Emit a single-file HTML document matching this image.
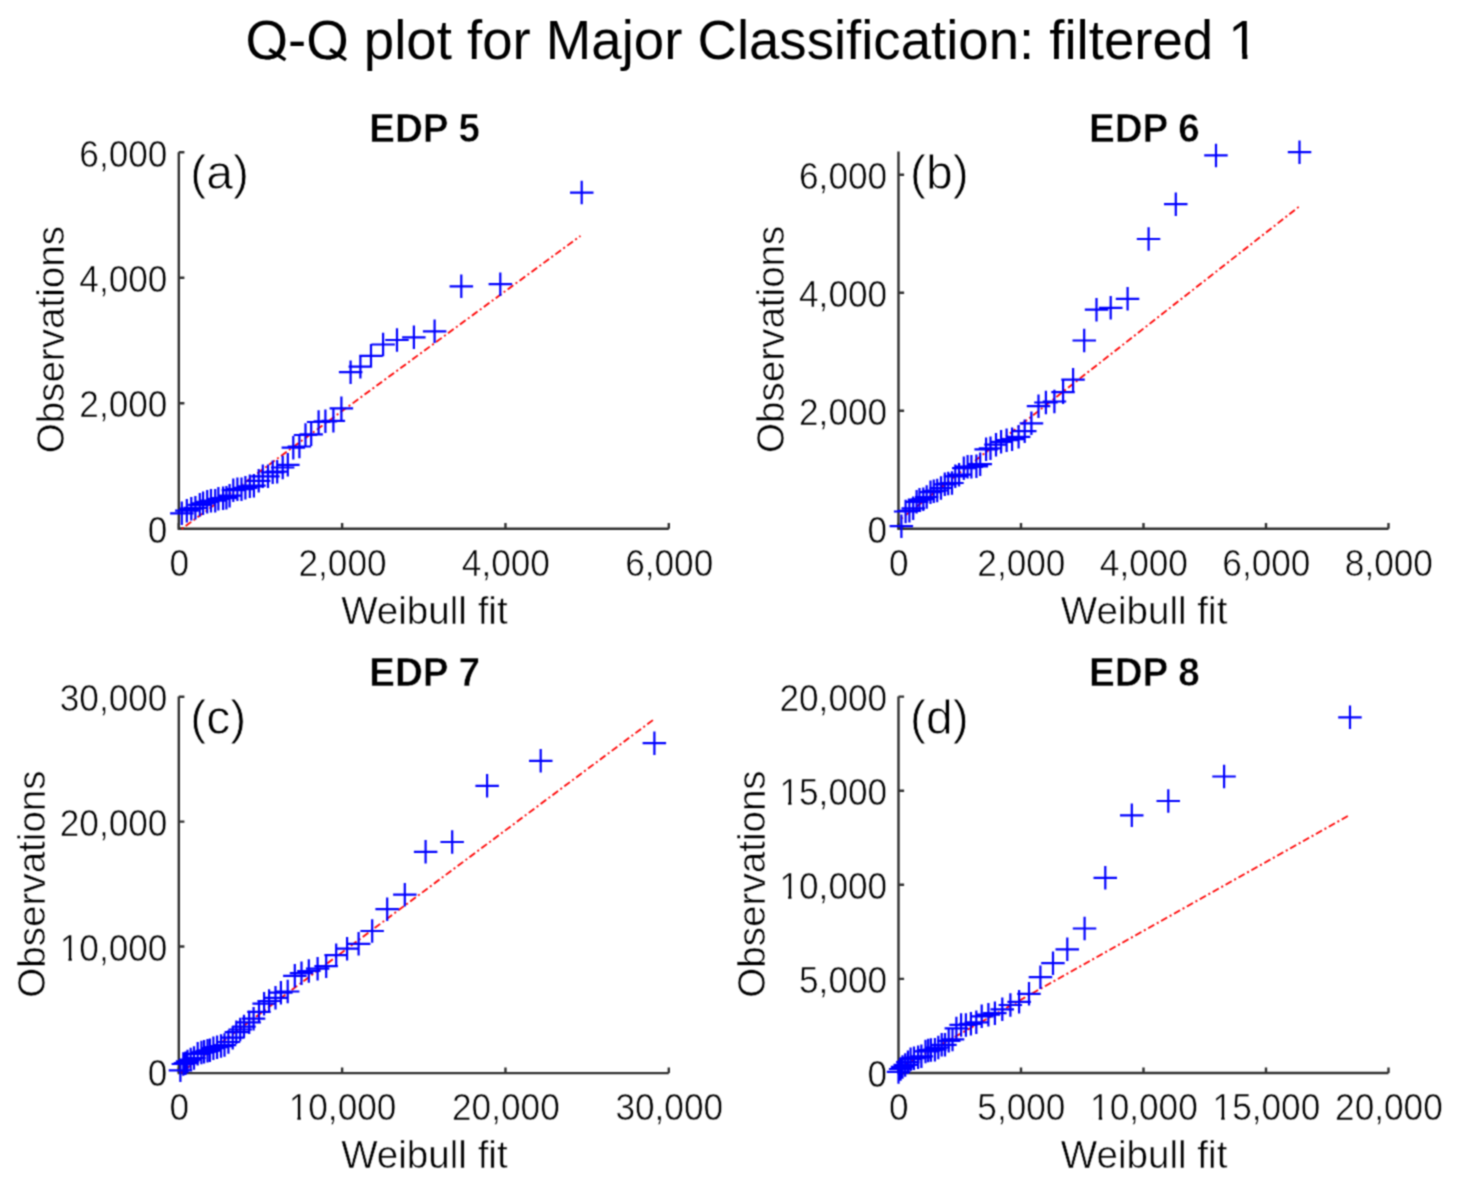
<!DOCTYPE html><html><head><meta charset="utf-8"><style>html,body{margin:0;padding:0;background:#fff;}svg{display:block;}</style></head><body>
<svg width="1462" height="1186" viewBox="0 0 1462 1186" font-family='"Liberation Sans", sans-serif'>
<defs><filter id="bl" filterUnits="userSpaceOnUse" x="0" y="0" width="1462" height="1186" color-interpolation-filters="sRGB"><feConvolveMatrix order="3" kernelMatrix="0.0484 0.1232 0.0484 0.1232 0.3136 0.1232 0.0484 0.1232 0.0484" divisor="1" edgeMode="duplicate"/></filter></defs>
<g filter="url(#bl)">
<rect width="1462" height="1186" fill="#fff"/>
<text transform="translate(245.6,58.7) scale(1,1.02)" font-size="54.6" fill="#000">Q-Q plot for Major Classification: filtered 1</text>
<rect x="1232.00" y="53.37" width="10.28" height="6.13" fill="#fff"/><rect x="1247.38" y="53.37" width="10.43" height="6.13" fill="#fff"/>
<rect x="261.50" y="59.7" width="23" height="12" fill="#fff"/>
<path d="M269.30,49.5L285.40,59.9" stroke="#000" stroke-width="3.5" fill="none"/>
<rect x="322.15" y="59.7" width="23" height="12" fill="#fff"/>
<path d="M329.95,49.5L346.05,59.9" stroke="#000" stroke-width="3.5" fill="none"/>
<g><path d="M178.80,152.30V528.70H668.80" fill="none" stroke="#303030" stroke-width="2.4"/><path d="M178.80,528.70v-5.6M342.13,528.70v-5.6M505.47,528.70v-5.6M668.80,528.70v-5.6M178.80,528.70h5.6M178.80,403.23h5.6M178.80,277.77h5.6M178.80,152.30h5.6" fill="none" stroke="#303030" stroke-width="2.4"/><text transform="translate(179.20,575.70) scale(1,1.04)" font-size="35.2" text-anchor="middle" fill="#000000" stroke="#fff" stroke-width="0.55">0</text><text transform="translate(342.53,575.70) scale(1,1.04)" font-size="35.2" text-anchor="middle" fill="#000000" stroke="#fff" stroke-width="0.55">2,000</text><text transform="translate(505.87,575.70) scale(1,1.04)" font-size="35.2" text-anchor="middle" fill="#000000" stroke="#fff" stroke-width="0.55">4,000</text><text transform="translate(669.20,575.70) scale(1,1.04)" font-size="35.2" text-anchor="middle" fill="#000000" stroke="#fff" stroke-width="0.55">6,000</text><text transform="translate(167.40,529.70) scale(1,1.05)" y="12.6" font-size="35.2" text-anchor="end" fill="#000000" stroke="#fff" stroke-width="0.55">0</text><text transform="translate(167.40,404.23) scale(1,1.05)" y="12.6" font-size="35.2" text-anchor="end" fill="#000000" stroke="#fff" stroke-width="0.55">2,000</text><text transform="translate(167.40,278.77) scale(1,1.05)" y="12.6" font-size="35.2" text-anchor="end" fill="#000000" stroke="#fff" stroke-width="0.55">4,000</text><text transform="translate(167.40,153.30) scale(1,1.05)" y="12.6" font-size="35.2" text-anchor="end" fill="#000000" stroke="#fff" stroke-width="0.55">6,000</text><text x="424.40" y="623.50" font-size="38.6" text-anchor="middle" fill="#000000" stroke="#fff" stroke-width="0.55">Weibull fit</text><text transform="translate(63.80,339.70) rotate(-90)" x="0" y="0" font-size="38.6" text-anchor="middle" fill="#000000" stroke="#fff" stroke-width="0.55">Observations</text><text transform="translate(424.60,142.30) scale(1,1.05)" x="0" y="0" font-size="38.6" font-weight="bold" text-anchor="middle" fill="#000" stroke="#fff" stroke-width="0.5">EDP 5</text><text x="190.30" y="189.20" font-size="48" fill="#000" stroke="#fff" stroke-width="0.8">(a)</text><path d="M580.5,235.9L181.6,529.0" fill="none" stroke="#ff0000" stroke-width="1.8" stroke-dasharray="7 2.9 2 2.9" stroke-dashoffset="5.4"/><path d="M170.1,513.3h23.5M181.8,501.5v23.5M175.1,510.6h23.5M186.8,498.9v23.5M179.6,508.7h23.5M191.3,496.9v23.5M183.7,507.9h23.5M195.4,496.1v23.5M188.1,504.8h23.5M199.8,493.1v23.5M191.3,503.4h23.5M203.1,491.6v23.5M195.4,501.9h23.5M207.2,490.1v23.5M199.2,500.7h23.5M211.0,488.9v23.5M203.4,500.7h23.5M215.2,488.9v23.5M206.7,498.8h23.5M218.4,487.1v23.5M211.3,498.2h23.5M223.1,486.4v23.5M214.7,497.9h23.5M226.4,486.1v23.5M217.8,495.7h23.5M229.6,483.9v23.5M221.6,490.1h23.5M233.3,478.4v23.5M225.7,489.1h23.5M237.4,477.4v23.5M229.8,489.2h23.5M241.5,477.4v23.5M233.7,487.9h23.5M245.4,476.1v23.5M238.1,486.3h23.5M249.8,474.6v23.5M242.2,485.7h23.5M253.9,473.9v23.5M246.9,480.9h23.5M258.7,469.1v23.5M251.1,476.4h23.5M262.8,464.6v23.5M256.2,476.4h23.5M268.0,464.6v23.5M260.9,472.3h23.5M272.7,460.6v23.5M265.4,471.6h23.5M277.2,459.9v23.5M270.9,467.5h23.5M282.7,455.8v23.5M276.1,464.8h23.5M287.8,453.1v23.5M281.6,447.7h23.5M293.3,435.9v23.5M287.6,446.5h23.5M299.4,434.8v23.5M293.8,435.0h23.5M305.5,423.2v23.5M299.4,434.3h23.5M311.2,422.6v23.5M306.9,422.0h23.5M318.6,410.2v23.5M313.6,421.4h23.5M325.4,409.6v23.5M321.6,420.9h23.5M333.4,409.1v23.5M329.6,408.3h23.5M341.4,396.6v23.5M338.9,372.2h23.5M350.6,360.4v23.5M348.6,366.7h23.5M360.4,354.9v23.5M359.2,355.8h23.5M371.0,344.1v23.5M371.4,344.5h23.5M383.1,332.8v23.5M385.2,340.0h23.5M397.0,328.2v23.5M402.1,337.3h23.5M413.9,325.6v23.5M422.9,331.4h23.5M434.6,319.6v23.5M449.6,286.3h23.5M461.3,274.6v23.5M488.6,284.2h23.5M500.3,272.4v23.5M570.0,192.6h23.5M581.7,180.8v23.5" fill="none" stroke="#0000ff" stroke-width="2.2"/></g>
<g><path d="M898.50,151.50V528.70H1388.50" fill="none" stroke="#303030" stroke-width="2.4"/><path d="M898.50,528.70v-5.6M1021.00,528.70v-5.6M1143.50,528.70v-5.6M1266.00,528.70v-5.6M1388.50,528.70v-5.6M898.50,528.70h5.6M898.50,410.70h5.6M898.50,292.70h5.6M898.50,174.70h5.6" fill="none" stroke="#303030" stroke-width="2.4"/><text transform="translate(898.90,575.70) scale(1,1.04)" font-size="35.2" text-anchor="middle" fill="#000000" stroke="#fff" stroke-width="0.55">0</text><text transform="translate(1021.40,575.70) scale(1,1.04)" font-size="35.2" text-anchor="middle" fill="#000000" stroke="#fff" stroke-width="0.55">2,000</text><text transform="translate(1143.90,575.70) scale(1,1.04)" font-size="35.2" text-anchor="middle" fill="#000000" stroke="#fff" stroke-width="0.55">4,000</text><text transform="translate(1266.40,575.70) scale(1,1.04)" font-size="35.2" text-anchor="middle" fill="#000000" stroke="#fff" stroke-width="0.55">6,000</text><text transform="translate(1388.90,575.70) scale(1,1.04)" font-size="35.2" text-anchor="middle" fill="#000000" stroke="#fff" stroke-width="0.55">8,000</text><text transform="translate(887.10,529.70) scale(1,1.05)" y="12.6" font-size="35.2" text-anchor="end" fill="#000000" stroke="#fff" stroke-width="0.55">0</text><text transform="translate(887.10,411.70) scale(1,1.05)" y="12.6" font-size="35.2" text-anchor="end" fill="#000000" stroke="#fff" stroke-width="0.55">2,000</text><text transform="translate(887.10,293.70) scale(1,1.05)" y="12.6" font-size="35.2" text-anchor="end" fill="#000000" stroke="#fff" stroke-width="0.55">4,000</text><text transform="translate(887.10,175.70) scale(1,1.05)" y="12.6" font-size="35.2" text-anchor="end" fill="#000000" stroke="#fff" stroke-width="0.55">6,000</text><text x="1144.10" y="623.50" font-size="38.6" text-anchor="middle" fill="#000000" stroke="#fff" stroke-width="0.55">Weibull fit</text><text transform="translate(783.50,339.30) rotate(-90)" x="0" y="0" font-size="38.6" text-anchor="middle" fill="#000000" stroke="#fff" stroke-width="0.55">Observations</text><text transform="translate(1144.30,142.30) scale(1,1.05)" x="0" y="0" font-size="38.6" font-weight="bold" text-anchor="middle" fill="#000" stroke="#fff" stroke-width="0.5">EDP 6</text><text x="910.00" y="189.20" font-size="48" fill="#000" stroke="#fff" stroke-width="0.8">(b)</text><path d="M1299.2,206.5L901.4,518.5" fill="none" stroke="#ff0000" stroke-width="1.8" stroke-dasharray="7 2.9 2 2.9" stroke-dashoffset="9.25"/><path d="M889.6,526.1h23.5M901.4,514.4v23.5M893.9,511.5h23.5M905.6,499.8v23.5M897.6,510.9h23.5M909.4,499.1v23.5M901.5,508.4h23.5M913.2,496.6v23.5M904.9,501.8h23.5M916.6,490.1v23.5M907.8,499.7h23.5M919.5,487.9v23.5M911.5,499.1h23.5M923.3,487.4v23.5M915.0,497.0h23.5M926.7,485.2v23.5M918.8,492.1h23.5M930.5,480.4v23.5M922.0,491.1h23.5M933.8,479.4v23.5M925.5,490.5h23.5M937.2,478.8v23.5M929.2,488.0h23.5M941.0,476.2v23.5M933.0,484.4h23.5M944.8,472.6v23.5M936.5,483.5h23.5M948.2,471.8v23.5M940.2,483.0h23.5M952.0,471.2v23.5M943.5,476.4h23.5M955.3,464.6v23.5M947.4,474.7h23.5M959.1,462.9v23.5M952.0,468.1h23.5M963.8,456.4v23.5M955.9,466.7h23.5M967.6,454.9v23.5M959.6,466.8h23.5M971.4,455.1v23.5M964.6,466.3h23.5M976.4,454.6v23.5M968.5,464.1h23.5M980.2,452.4v23.5M974.4,449.3h23.5M986.1,437.6v23.5M978.8,448.4h23.5M990.5,436.6v23.5M984.2,444.6h23.5M996.0,432.9v23.5M989.4,441.9h23.5M1001.1,430.1v23.5M994.9,440.2h23.5M1006.6,428.4v23.5M1000.4,439.2h23.5M1012.1,427.4v23.5M1006.9,436.8h23.5M1018.6,425.1v23.5M1013.0,431.2h23.5M1024.7,419.4v23.5M1019.7,423.3h23.5M1031.4,411.6v23.5M1026.8,406.1h23.5M1038.5,394.4v23.5M1034.2,402.5h23.5M1045.9,390.8v23.5M1042.7,401.5h23.5M1054.4,389.8v23.5M1051.3,392.2h23.5M1063.1,380.4v23.5M1061.3,379.7h23.5M1073.1,367.9v23.5M1072.5,340.5h23.5M1084.2,328.8v23.5M1084.8,309.6h23.5M1096.5,297.9v23.5M1099.0,307.8h23.5M1110.7,296.1v23.5M1115.8,298.9h23.5M1127.6,287.1v23.5M1136.8,239.0h23.5M1148.6,227.2v23.5M1164.0,204.2h23.5M1175.8,192.4v23.5M1204.2,155.4h23.5M1216.0,143.7v23.5M1287.8,152.2h23.5M1299.5,140.4v23.5" fill="none" stroke="#0000ff" stroke-width="2.2"/></g>
<g><path d="M178.80,696.60V1073.10H668.80" fill="none" stroke="#303030" stroke-width="2.4"/><path d="M178.80,1073.10v-5.6M342.13,1073.10v-5.6M505.47,1073.10v-5.6M668.80,1073.10v-5.6M178.80,1071.40h5.6M178.80,946.50h5.6M178.80,821.60h5.6M178.80,696.70h5.6" fill="none" stroke="#303030" stroke-width="2.4"/><text transform="translate(179.20,1120.10) scale(1,1.04)" font-size="35.2" text-anchor="middle" fill="#000000" stroke="#fff" stroke-width="0.55">0</text><text transform="translate(342.53,1120.10) scale(1,1.04)" font-size="35.2" text-anchor="middle" fill="#000000" stroke="#fff" stroke-width="0.55">10,000</text><rect x="290.81" y="1116.39" width="6.57" height="4.51" fill="#fff"/><rect x="300.78" y="1116.39" width="6.72" height="4.51" fill="#fff"/><text transform="translate(505.87,1120.10) scale(1,1.04)" font-size="35.2" text-anchor="middle" fill="#000000" stroke="#fff" stroke-width="0.55">20,000</text><text transform="translate(669.20,1120.10) scale(1,1.04)" font-size="35.2" text-anchor="middle" fill="#000000" stroke="#fff" stroke-width="0.55">30,000</text><text transform="translate(167.40,1072.40) scale(1,1.05)" y="12.6" font-size="35.2" text-anchor="end" fill="#000000" stroke="#fff" stroke-width="0.55">0</text><text transform="translate(167.40,947.50) scale(1,1.05)" y="12.6" font-size="35.2" text-anchor="end" fill="#000000" stroke="#fff" stroke-width="0.55">10,000</text><rect x="61.85" y="956.99" width="6.57" height="4.54" fill="#fff"/><rect x="71.82" y="956.99" width="6.72" height="4.54" fill="#fff"/><text transform="translate(167.40,822.60) scale(1,1.05)" y="12.6" font-size="35.2" text-anchor="end" fill="#000000" stroke="#fff" stroke-width="0.55">20,000</text><text transform="translate(167.40,697.70) scale(1,1.05)" y="12.6" font-size="35.2" text-anchor="end" fill="#000000" stroke="#fff" stroke-width="0.55">30,000</text><text x="424.40" y="1167.90" font-size="38.6" text-anchor="middle" fill="#000000" stroke="#fff" stroke-width="0.55">Weibull fit</text><text transform="translate(45.10,884.05) rotate(-90)" x="0" y="0" font-size="38.6" text-anchor="middle" fill="#000000" stroke="#fff" stroke-width="0.55">Observations</text><text transform="translate(424.60,686.40) scale(1,1.05)" x="0" y="0" font-size="38.6" font-weight="bold" text-anchor="middle" fill="#000" stroke="#fff" stroke-width="0.5">EDP 7</text><text x="190.30" y="733.70" font-size="48" fill="#000" stroke="#fff" stroke-width="0.8">(c)</text><path d="M652.9,720.1L180.4,1073.2" fill="none" stroke="#ff0000" stroke-width="1.8" stroke-dasharray="7 2.9 2 2.9" stroke-dashoffset="0"/><path d="M168.7,1070.3h23.5M180.4,1058.5v23.5M171.6,1064.0h23.5M183.3,1052.2v23.5M173.8,1063.2h23.5M185.5,1051.5v23.5M175.8,1061.4h23.5M187.5,1049.7v23.5M178.9,1059.6h23.5M190.7,1047.8v23.5M182.2,1058.0h23.5M194.0,1046.2v23.5M185.9,1053.8h23.5M197.7,1042.0v23.5M189.7,1052.6h23.5M201.4,1040.8v23.5M192.3,1051.8h23.5M204.1,1040.0v23.5M195.8,1050.8h23.5M207.5,1039.0v23.5M198.2,1050.3h23.5M209.9,1038.5v23.5M201.7,1048.2h23.5M213.4,1036.5v23.5M205.3,1047.2h23.5M217.1,1035.5v23.5M209.2,1046.1h23.5M221.0,1034.3v23.5M212.8,1045.1h23.5M224.5,1033.3v23.5M216.7,1042.0h23.5M228.4,1030.2v23.5M220.9,1037.7h23.5M232.7,1026.0v23.5M224.6,1032.2h23.5M236.3,1020.5v23.5M228.4,1029.5h23.5M240.2,1017.8v23.5M232.2,1026.6h23.5M244.0,1014.8v23.5M237.4,1022.3h23.5M249.2,1010.5v23.5M241.8,1018.6h23.5M253.6,1006.9v23.5M247.2,1011.9h23.5M259.0,1000.1v23.5M252.4,1003.6h23.5M264.1,991.9v23.5M257.4,1001.0h23.5M269.1,989.2v23.5M263.8,997.8h23.5M275.5,986.0v23.5M269.1,992.7h23.5M280.9,981.0v23.5M275.9,991.5h23.5M287.7,979.8v23.5M283.1,975.8h23.5M294.8,964.0v23.5M289.8,973.1h23.5M301.5,961.4v23.5M297.1,971.0h23.5M308.8,959.2v23.5M305.9,968.6h23.5M317.6,956.9v23.5M314.4,966.2h23.5M326.2,954.5v23.5M324.4,955.1h23.5M336.2,943.4v23.5M335.4,948.6h23.5M347.1,936.9v23.5M346.9,943.8h23.5M358.6,932.0v23.5M360.4,931.0h23.5M372.2,919.2v23.5M375.4,909.2h23.5M387.2,897.5v23.5M393.1,894.6h23.5M404.8,882.9v23.5M413.9,851.9h23.5M425.6,840.1v23.5M440.4,842.0h23.5M452.2,830.2v23.5M475.4,785.8h23.5M487.1,774.0v23.5M529.0,760.9h23.5M540.7,749.1v23.5M642.6,743.1h23.5M654.4,731.4v23.5" fill="none" stroke="#0000ff" stroke-width="2.2"/></g>
<g><path d="M898.50,696.60V1073.00H1388.50" fill="none" stroke="#303030" stroke-width="2.4"/><path d="M898.50,1073.00v-5.6M1021.00,1073.00v-5.6M1143.50,1073.00v-5.6M1266.00,1073.00v-5.6M1388.50,1073.00v-5.6M898.50,1073.00h5.6M898.50,978.90h5.6M898.50,884.80h5.6M898.50,790.70h5.6M898.50,696.60h5.6" fill="none" stroke="#303030" stroke-width="2.4"/><text transform="translate(898.90,1120.00) scale(1,1.04)" font-size="35.2" text-anchor="middle" fill="#000000" stroke="#fff" stroke-width="0.55">0</text><text transform="translate(1021.40,1120.00) scale(1,1.04)" font-size="35.2" text-anchor="middle" fill="#000000" stroke="#fff" stroke-width="0.55">5,000</text><text transform="translate(1143.90,1120.00) scale(1,1.04)" font-size="35.2" text-anchor="middle" fill="#000000" stroke="#fff" stroke-width="0.55">10,000</text><rect x="1092.18" y="1116.29" width="6.57" height="4.51" fill="#fff"/><rect x="1102.15" y="1116.29" width="6.72" height="4.51" fill="#fff"/><text transform="translate(1266.40,1120.00) scale(1,1.04)" font-size="35.2" text-anchor="middle" fill="#000000" stroke="#fff" stroke-width="0.55">15,000</text><rect x="1214.68" y="1116.29" width="6.57" height="4.51" fill="#fff"/><rect x="1224.65" y="1116.29" width="6.72" height="4.51" fill="#fff"/><text transform="translate(1388.90,1120.00) scale(1,1.04)" font-size="35.2" text-anchor="middle" fill="#000000" stroke="#fff" stroke-width="0.55">20,000</text><text transform="translate(887.10,1074.00) scale(1,1.05)" y="12.6" font-size="35.2" text-anchor="end" fill="#000000" stroke="#fff" stroke-width="0.55">0</text><text transform="translate(887.10,979.90) scale(1,1.05)" y="12.6" font-size="35.2" text-anchor="end" fill="#000000" stroke="#fff" stroke-width="0.55">5,000</text><text transform="translate(887.10,885.80) scale(1,1.05)" y="12.6" font-size="35.2" text-anchor="end" fill="#000000" stroke="#fff" stroke-width="0.55">10,000</text><rect x="781.55" y="895.29" width="6.57" height="4.54" fill="#fff"/><rect x="791.52" y="895.29" width="6.72" height="4.54" fill="#fff"/><text transform="translate(887.10,791.70) scale(1,1.05)" y="12.6" font-size="35.2" text-anchor="end" fill="#000000" stroke="#fff" stroke-width="0.55">15,000</text><rect x="781.55" y="801.19" width="6.57" height="4.54" fill="#fff"/><rect x="791.52" y="801.19" width="6.72" height="4.54" fill="#fff"/><text transform="translate(887.10,697.60) scale(1,1.05)" y="12.6" font-size="35.2" text-anchor="end" fill="#000000" stroke="#fff" stroke-width="0.55">20,000</text><text x="1144.10" y="1167.80" font-size="38.6" text-anchor="middle" fill="#000000" stroke="#fff" stroke-width="0.55">Weibull fit</text><text transform="translate(764.80,884.00) rotate(-90)" x="0" y="0" font-size="38.6" text-anchor="middle" fill="#000000" stroke="#fff" stroke-width="0.55">Observations</text><text transform="translate(1144.30,686.40) scale(1,1.05)" x="0" y="0" font-size="38.6" font-weight="bold" text-anchor="middle" fill="#000" stroke="#fff" stroke-width="0.5">EDP 8</text><text x="910.00" y="733.70" font-size="48" fill="#000" stroke="#fff" stroke-width="0.8">(d)</text><path d="M1350.0,814.8L898.5,1068.5" fill="none" stroke="#ff0000" stroke-width="1.8" stroke-dasharray="7 2.9 2 2.9" stroke-dashoffset="12.3"/><path d="M886.8,1071.9h23.5M898.5,1060.2v23.5M888.9,1069.0h23.5M900.6,1057.2v23.5M890.8,1066.9h23.5M902.5,1055.2v23.5M893.5,1064.9h23.5M905.2,1053.2v23.5M896.1,1062.2h23.5M907.9,1050.5v23.5M898.9,1059.2h23.5M910.6,1047.5v23.5M902.2,1058.2h23.5M914.0,1046.5v23.5M906.4,1057.3h23.5M918.1,1045.5v23.5M909.6,1056.3h23.5M921.4,1044.5v23.5M913.8,1051.4h23.5M925.5,1039.7v23.5M916.5,1050.6h23.5M928.2,1038.8v23.5M919.1,1050.1h23.5M930.9,1038.3v23.5M923.1,1049.7h23.5M934.9,1038.0v23.5M926.5,1047.5h23.5M938.3,1035.8v23.5M930.0,1044.8h23.5M941.7,1033.0v23.5M933.2,1044.8h23.5M945.0,1033.0v23.5M937.0,1040.8h23.5M948.7,1029.0v23.5M940.8,1039.4h23.5M952.5,1027.7v23.5M944.6,1028.4h23.5M956.4,1016.7v23.5M949.4,1024.9h23.5M961.1,1013.2v23.5M954.1,1024.9h23.5M965.9,1013.2v23.5M959.1,1023.8h23.5M970.9,1012.0v23.5M964.5,1022.4h23.5M976.3,1010.6v23.5M970.0,1016.4h23.5M981.7,1004.6v23.5M976.6,1014.7h23.5M988.4,1003.0v23.5M983.1,1013.2h23.5M994.9,1001.5v23.5M990.5,1009.3h23.5M1002.3,997.5v23.5M998.6,1005.0h23.5M1010.4,993.2v23.5M1007.4,1001.9h23.5M1019.1,990.1v23.5M1017.2,993.8h23.5M1029.0,982.0v23.5M1028.7,977.2h23.5M1040.4,965.5v23.5M1041.2,963.2h23.5M1053.0,951.5v23.5M1055.5,949.3h23.5M1067.3,937.5v23.5M1072.8,928.5h23.5M1084.6,916.8v23.5M1093.5,877.8h23.5M1105.3,866.0v23.5M1120.0,815.4h23.5M1131.8,803.6v23.5M1156.5,801.0h23.5M1168.3,789.2v23.5M1212.3,776.5h23.5M1224.1,764.8v23.5M1338.2,717.4h23.5M1350.0,705.6v23.5" fill="none" stroke="#0000ff" stroke-width="2.2"/></g>
</g></svg></body></html>
